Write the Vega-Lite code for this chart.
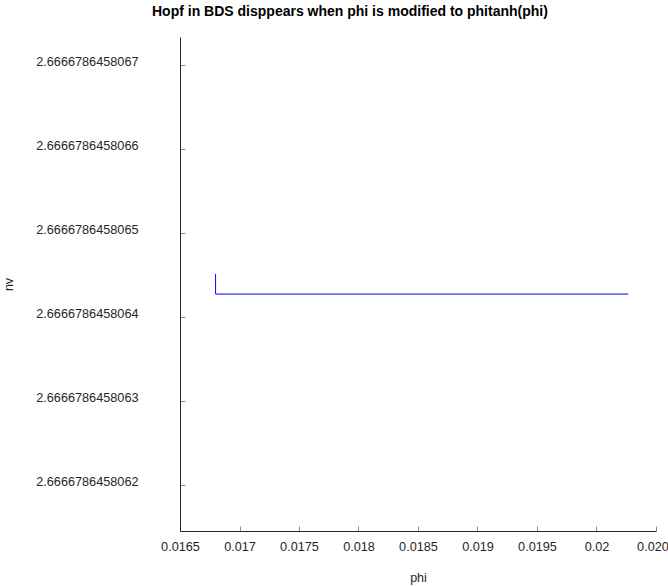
{
  "$schema": "https://vega.github.io/schema/vega-lite/v6.json",
  "autosize": "none",
  "padding": {"left": 180, "top": 37, "right": 12, "bottom": 55},
  "width": 476,
  "height": 494,
  "background": "white",
  "config": {
    "view": {"stroke": null},
    "font": "Liberation Sans",
    "axis": {"grid": false, "domainColor": "#262626", "tickColor": "#8c8c8c", "labelColor": "#262626", "titleColor": "#262626", "labelFont": "Liberation Sans", "titleFont": "Liberation Sans", "labelFontSize": 12.7, "titleFontSize": 12.5, "titleFontWeight": "normal"}
  },
  "title": {"text": "Hopf in BDS disppears when phi is modified to phitanh(phi)", "anchor": "start", "frame": "group", "dx": -28, "offset": 18, "fontSize": 14, "fontWeight": "bold", "color": "#000000", "font": "Liberation Sans"},
  "data": {"values": [
    {"order": 1, "phi": 0.016799, "nv": 2.666678645806451},
    {"order": 2, "phi": 0.016799, "nv": 2.666678645806427},
    {"order": 3, "phi": 0.020267, "nv": 2.666678645806427}
  ]},
  "mark": {"type": "line", "color": "#0000ff", "strokeWidth": 1},
  "encoding": {
    "x": {"field": "phi", "type": "quantitative", "title": "phi",
      "scale": {"domain": [0.0165, 0.0205], "nice": false, "zero": false},
      "axis": {"values": [0.0165, 0.017, 0.0175, 0.018, 0.0185, 0.019, 0.0195, 0.02, 0.0205], "format": "~g", "tickSize": -5, "labelPadding": 14, "titlePadding": 19, "labelFlush": false, "labelOverlap": false}},
    "y": {"field": "nv", "type": "quantitative", "title": "nv",
      "scale": {"domain": [2.666678645806145, 2.666678645806733], "nice": false, "zero": false},
      "axis": {"values": [2.6666786458062, 2.6666786458063, 2.6666786458064, 2.6666786458065, 2.6666786458066, 2.6666786458067], "format": ".14g", "tickSize": -5, "labelPadding": 47, "labelOffset": -3, "titlePadding": 20, "labelOverlap": false, "labelFlush": false}},
    "order": {"field": "order", "type": "quantitative"}
  }
}
